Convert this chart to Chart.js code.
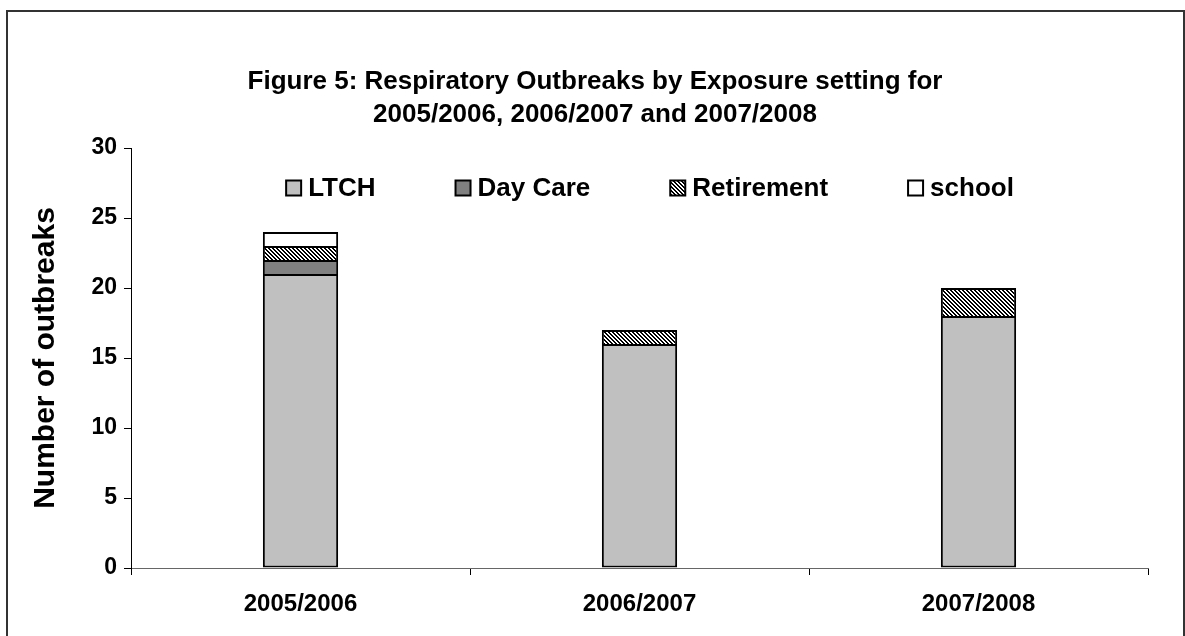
<!DOCTYPE html>
<html>
<head>
<meta charset="utf-8">
<script src="https://cdn.jsdelivr.net/npm/chart.js@4.4.1/dist/chart.umd.min.js"></script>
<style>
  html, body { margin: 0; padding: 0; background: #fff; }
  #frame { position: absolute; left: 6px; top: 10px; width: 1179px; height: 640px;
           border: 2px solid #333; border-bottom: none; box-sizing: border-box; }
  #wrap { position: absolute; left: 0; top: 0; width: 1185px; height: 636px; }
</style>
</head>
<body>
<div id="frame"></div>
<div id="wrap"><canvas id="chart" width="1185" height="636"></canvas></div>
<script>
// data
const seasons = ['2005/2006', '2006/2007', '2007/2008'];
const ltch = [21, 16, 18];
const dayCare = [1, 0, 0];
const retirement = [1, 1, 2];
const school = [1, 0, 0];
const yTicks = [0, 5, 10, 15, 20, 25, 30];

const FONT = '"Liberation Sans", Arial, Helvetica, sans-serif';
Chart.defaults.font.family = FONT;
Chart.defaults.color = '#000';

// diagonal hatch for Retirement
function makeHatch() {
    const c = document.createElement('canvas');
    c.width = 4; c.height = 4;
    const g = c.getContext('2d');
    const img = g.createImageData(4, 4);
    for (let y = 0; y < 4; y++) {
        for (let x = 0; x < 4; x++) {
            const i = (y * 4 + x) * 4;
            const dark = ((x - y + 8) % 4) < 2;
            const v = dark ? 0 : 255;
            img.data[i] = v; img.data[i + 1] = v; img.data[i + 2] = v; img.data[i + 3] = 255;
        }
    }
    g.putImageData(img, 0, 0);
    return c;
}
const ctx = document.getElementById('chart').getContext('2d');
const hatch = ctx.createPattern(makeHatch(), 'repeat');

const noZero = arr => arr.map(v => (v === 0 ? null : v));

// legend drawn inside the plot area, like the original
const insideLegend = {
    id: 'insideLegend',
    afterDraw(chart) {
        const c = chart.ctx;
        const area = chart.chartArea;
        c.save();
        c.font = 'bold 26px ' + FONT;
        c.textBaseline = 'middle';
        const box = 15, gap = 7, spacing = 80;
        const items = chart.data.datasets.map(ds => ({
            label: ds.label,
            fill: ds.backgroundColor,
            w: box + gap + c.measureText(ds.label).width
        }));
        const total = items.reduce((s, it) => s + it.w, 0) + spacing * (items.length - 1);
        let x = 650 - total / 2;
        const y = area.top + 40;
        items.forEach(it => {
            c.fillStyle = it.fill;
            c.fillRect(x, y - box / 2, box, box);
            c.lineWidth = 2;
            c.strokeStyle = '#000';
            c.strokeRect(x, y - box / 2, box, box);
            c.fillStyle = '#000';
            c.fillText(it.label, x + box + gap, y + 1);
            x += it.w + spacing;
        });
        c.restore();
    }
};

const common = { borderColor: '#000', borderWidth: 2, borderSkipped: 'start',
                 barPercentage: 0.222, categoryPercentage: 1 };

new Chart(ctx, {
    type: 'bar',
    data: {
        labels: seasons,
        datasets: [
            Object.assign({}, common, { label: 'LTCH', data: noZero(ltch), backgroundColor: '#c0c0c0', borderSkipped: false }),
            Object.assign({}, common, { label: 'Day Care', data: noZero(dayCare), backgroundColor: '#808080' }),
            Object.assign({}, common, { label: 'Retirement', data: noZero(retirement), backgroundColor: hatch }),
            Object.assign({}, common, { label: 'school', data: noZero(school), backgroundColor: '#ffffff' })
        ]
    },
    options: {
        responsive: false,
        animation: false,
        layout: { padding: { left: 5, right: 0, top: 0, bottom: 0 } },
        plugins: {
            legend: { display: false },
            tooltip: { enabled: false },
            title: {
                display: true,
                text: ['Figure 5: Respiratory Outbreaks by Exposure setting for',
                       '2005/2006, 2006/2007 and 2007/2008'],
                color: '#000',
                font: { size: 26, weight: 'bold', lineHeight: '33px' },
                padding: { top: 65.5, bottom: 16.5 }
            }
        },
        scales: {
            x: {
                stacked: true,
                grid: { drawOnChartArea: false, tickLength: 7, color: '#000', offset: true },
                border: { color: '#666', width: 1 },
                ticks: { color: '#000', font: { size: 24, weight: 'bold' }, padding: 15 },
                afterFit: s => { s.height = 68; }
            },
            y: {
                stacked: true,
                min: 0, max: 30,
                afterBuildTicks: s => { s.ticks = yTicks.map(v => ({ value: v })); },
                grid: { drawOnChartArea: false, tickLength: 7, color: '#000' },
                border: { color: '#000', width: 1 },
                ticks: { color: '#000', font: { size: 23, weight: 'bold' }, padding: 7 },
                title: {
                    display: true,
                    text: 'Number of outbreaks',
                    color: '#000',
                    font: { size: 30, weight: 'bold' },
                    padding: { top: 23, bottom: 0 }
                },
                afterFit: s => { s.width = 126; }
            },
            // empty right-hand strip so the plot ends where the original does
            spacer: {
                type: 'linear',
                position: 'right',
                display: true,
                grid: { display: false },
                border: { display: false },
                ticks: { display: false },
                afterFit: s => { s.width = 37; }
            }
        }
    },
    plugins: [insideLegend]
});
</script>
</body>
</html>
